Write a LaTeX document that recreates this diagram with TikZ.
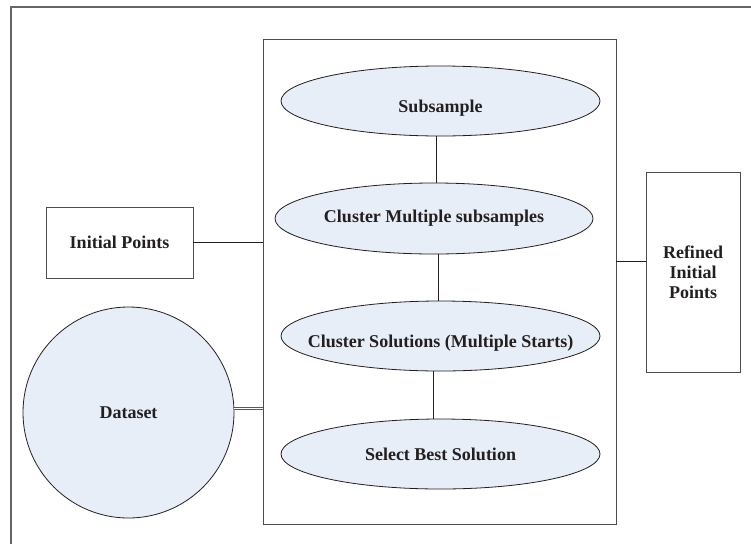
\documentclass[tikz,border=0pt]{standalone}
\usepackage{fontspec}
\setmainfont{Liberation Serif}
\usetikzlibrary{shapes.geometric}
\definecolor{fillblue}{RGB}{232,238,247}
\definecolor{ink}{RGB}{35,31,32}
\begin{document}
\begin{tikzpicture}[x=1pt,y=-1pt,
  txt/.style={font=\fontsize{18}{20}\selectfont\bfseries, text=ink},
  ell/.style={ellipse, draw=ink, fill=fillblue, line width=0.8pt, minimum width=319pt, minimum height=70pt, inner sep=0pt},
  etext/.style={label={[txt, inner sep=0pt, anchor=center, yshift=#1]center:}},
  box/.style={rectangle, draw=black!70, line width=0.9pt, inner sep=0pt, txt},
  conn/.style={draw=ink, line width=0.8pt}]
\useasboundingbox (0,0) rectangle (751,544);
% outer frame (running off the page on the right and bottom)
\draw[black!60, line width=1.3pt] (11,544) -- (11,7) -- (751,7);
% inner container
\node[box, minimum width=353pt, minimum height=485pt] (frame) at (439.5,281.5) {};
% ellipses
\node[ell, label={[txt, anchor=center, yshift=-7pt]center:Subsample}] (sub) at (440.5,101) {};
\node[ell, minimum width=318pt, minimum height=71pt, label={[txt, anchor=center]center:Cluster Multiple subsamples}] (cm) at (434,218.5) {};
\node[ell, label={[txt, anchor=center, yshift=-7pt]center:Cluster Solutions (Multiple Starts)}] (cs) at (440.5,336) {};
\node[ell, label={[txt, anchor=center]center:Select Best Solution}] (sb) at (440.5,454) {};
% left side
\node[box, minimum width=147pt, minimum height=71pt] (ip) at (119.5,242.5) {Initial Points};
\node[circle, draw=ink, fill=fillblue, line width=0.8pt, minimum size=211pt, inner sep=0pt, txt] (ds) at (128.5,412.5) {Dataset};
% right side
\node[box, minimum width=94pt, minimum height=200pt, align=center] (ref) at (693,272) {Refined\\Initial\\Points};
% connectors
\draw[conn] ([xshift=-4.5pt]sub.south) -- ([xshift=2pt]cm.north);
\draw[conn] ([xshift=4.5pt]cm.south) -- ([xshift=-2pt]cs.north);
\draw[conn] ([xshift=-7pt]cs.south) -- ([xshift=-7pt]sb.north);
\draw[conn] (ip.east) -- (ip.east -| frame.west);
\draw[draw=black!65, line width=0.7pt, double=white, double distance=1.6pt] ([yshift=4pt]ds.east) -- ([yshift=4pt]ds.east -| frame.west);
\draw[conn] ([yshift=11pt]ref.west) -- ([yshift=11pt]ref.west -| frame.east);
\end{tikzpicture}
\end{document}
